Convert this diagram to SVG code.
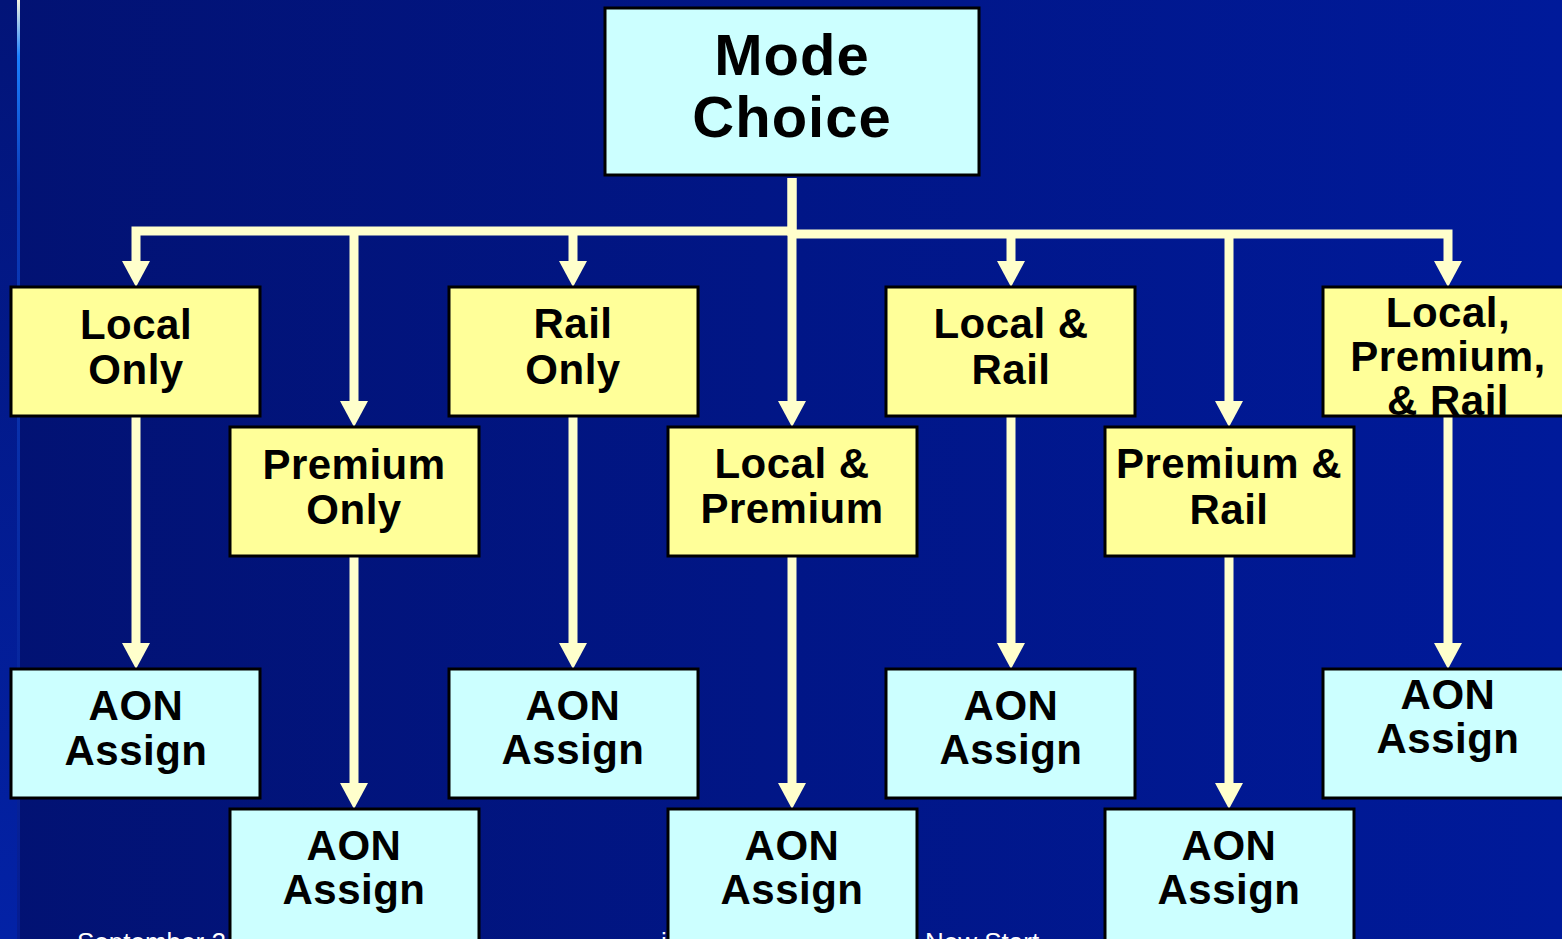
<svg xmlns="http://www.w3.org/2000/svg" width="1562" height="939" viewBox="0 0 1562 939">
  <defs>
    <linearGradient id="bg" x1="0" y1="0" x2="1" y2="0">
      <stop offset="0" stop-color="#021273"/>
      <stop offset="1" stop-color="#001a9a"/>
    </linearGradient>
    <linearGradient id="strip" x1="0" y1="0" x2="0" y2="1">
      <stop offset="0" stop-color="#021478"/>
      <stop offset="1" stop-color="#0322a6"/>
    </linearGradient>
    <linearGradient id="rule" x1="0" y1="0" x2="0" y2="1">
      <stop offset="0" stop-color="#f4f4e0"/>
      <stop offset="0.06" stop-color="#1a80ff"/>
      <stop offset="0.2" stop-color="#0a3ab8"/>
      <stop offset="1" stop-color="#061c90"/>
    </linearGradient>
    <marker id="arrow" markerUnits="userSpaceOnUse" markerWidth="26" markerHeight="28" viewBox="0 0 26 28" refX="0" refY="14" orient="auto">
      <path d="M0,0 L26,14 L0,28 Z" fill="#ffffcc"/>
    </marker>
    <clipPath id="clipLPR">
      <rect x="1323" y="288" width="239" height="128"/>
    </clipPath>
    <style>
      .box { stroke: #000; stroke-width: 3; }
      .mode { fill: #ccffff; }
      .yel { fill: #ffff99; }
      .aon { fill: #ccffff; }
      .lbl { font-family: "Liberation Sans", Arial, sans-serif; font-weight: bold; font-size: 42px; letter-spacing: 0.5px; fill: #000; text-anchor: middle; }
      .big { font-size: 58px; letter-spacing: 1px; }
      .conn { fill: none; stroke: #ffffcc; stroke-width: 9; stroke-linejoin: miter; marker-end: url(#arrow); }
      .trunk { fill: none; stroke: #ffffcc; stroke-width: 9; }
      .foot { font-family: "Liberation Sans", Arial, sans-serif; font-size: 26px; fill: #ffffff; }
    </style>
  </defs>

  <!-- slide background -->
  <rect width="1562" height="939" fill="url(#bg)"/>
  <rect x="0" y="0" width="17" height="939" fill="url(#strip)"/>
  <rect x="17" y="0" width="3" height="939" fill="url(#rule)"/>

  <!-- footer line, running off the bottom edge -->
  <text class="foot" x="77" y="951">September 2</text>
  <text class="foot" x="661" y="951">i</text>
  <text class="foot" x="925" y="951">New Start</text>

  <!-- connectors -->
  <g id="connectors">
    <path class="trunk" d="M792,178 V236"/>
    <path class="conn" d="M792,231 H136 V261"/>
    <path class="conn" d="M354,231 V401"/>
    <path class="conn" d="M573,231 V261"/>
    <path class="conn" d="M792,178 V401"/>
    <path class="conn" d="M792,234 H1448 V261"/>
    <path class="conn" d="M1011,234 V261"/>
    <path class="conn" d="M1229,234 V401"/>

    <path class="conn" d="M136,417 V643"/>
    <path class="conn" d="M573,417 V643"/>
    <path class="conn" d="M1011,417 V643"/>
    <path class="conn" d="M1448,417 V643"/>
    <path class="conn" d="M354,557 V783"/>
    <path class="conn" d="M792,557 V783"/>
    <path class="conn" d="M1229,557 V783"/>
  </g>

  <g id="mode-choice">
    <rect class="box mode" x="605" y="8" width="374" height="167"/>
    <text class="lbl big" x="792" y="75">Mode</text>
    <text class="lbl big" x="792" y="137">Choice</text>
  </g>

  <g id="local-only">
    <rect class="box yel" x="11" y="287" width="249" height="129"/>
    <text class="lbl" x="136" y="339">Local</text>
    <text class="lbl" x="136" y="384">Only</text>
  </g>
  <g id="premium-only">
    <rect class="box yel" x="230" y="427" width="249" height="129"/>
    <text class="lbl" x="354" y="479">Premium</text>
    <text class="lbl" x="354" y="524">Only</text>
  </g>
  <g id="rail-only">
    <rect class="box yel" x="449" y="287" width="249" height="129"/>
    <text class="lbl" x="573" y="338">Rail</text>
    <text class="lbl" x="573" y="384">Only</text>
  </g>
  <g id="local-premium">
    <rect class="box yel" x="668" y="427" width="249" height="129"/>
    <text class="lbl" x="792" y="478">Local &amp;</text>
    <text class="lbl" x="792" y="523">Premium</text>
  </g>
  <g id="local-rail">
    <rect class="box yel" x="886" y="287" width="249" height="129"/>
    <text class="lbl" x="1011" y="338">Local &amp;</text>
    <text class="lbl" x="1011" y="384">Rail</text>
  </g>
  <g id="premium-rail">
    <rect class="box yel" x="1105" y="427" width="249" height="129"/>
    <text class="lbl" x="1229" y="478">Premium &amp;</text>
    <text class="lbl" x="1229" y="524">Rail</text>
  </g>
  <g id="local-premium-rail">
    <rect class="box yel" x="1323" y="287" width="260" height="129"/>
    <g clip-path="url(#clipLPR)">
      <text class="lbl" x="1448" y="327">Local,</text>
      <text class="lbl" x="1448" y="371">Premium,</text>
      <text class="lbl" x="1448" y="415">&amp; Rail</text>
    </g>
  </g>

  <g id="aon-local">
    <rect class="box aon" x="11" y="669" width="249" height="129"/>
    <text class="lbl" x="136" y="720">AON</text>
    <text class="lbl" x="136" y="765">Assign</text>
  </g>
  <g id="aon-premium">
    <rect class="box aon" x="230" y="809" width="249" height="140"/>
    <text class="lbl" x="354" y="860">AON</text>
    <text class="lbl" x="354" y="904">Assign</text>
  </g>
  <g id="aon-rail">
    <rect class="box aon" x="449" y="669" width="249" height="129"/>
    <text class="lbl" x="573" y="720">AON</text>
    <text class="lbl" x="573" y="764">Assign</text>
  </g>
  <g id="aon-local-premium">
    <rect class="box aon" x="668" y="809" width="249" height="140"/>
    <text class="lbl" x="792" y="860">AON</text>
    <text class="lbl" x="792" y="904">Assign</text>
  </g>
  <g id="aon-local-rail">
    <rect class="box aon" x="886" y="669" width="249" height="129"/>
    <text class="lbl" x="1011" y="720">AON</text>
    <text class="lbl" x="1011" y="764">Assign</text>
  </g>
  <g id="aon-premium-rail">
    <rect class="box aon" x="1105" y="809" width="249" height="140"/>
    <text class="lbl" x="1229" y="860">AON</text>
    <text class="lbl" x="1229" y="904">Assign</text>
  </g>
  <g id="aon-local-premium-rail">
    <rect class="box aon" x="1323" y="669" width="260" height="129"/>
    <text class="lbl" x="1448" y="709">AON</text>
    <text class="lbl" x="1448" y="753">Assign</text>
  </g>
</svg>
